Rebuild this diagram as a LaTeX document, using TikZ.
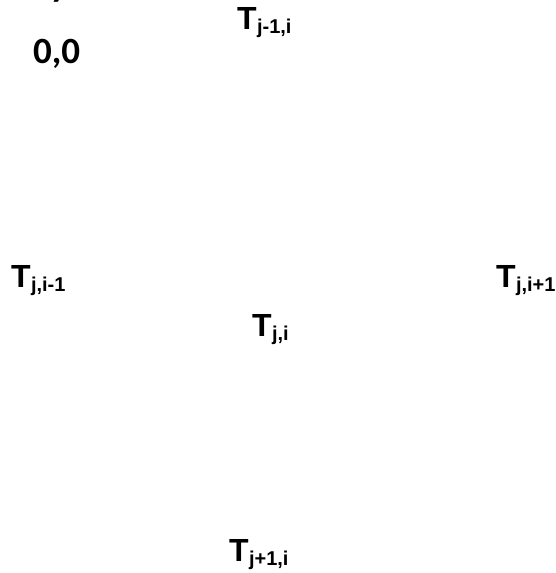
\documentclass[tikz,border=0pt]{standalone}
\usepackage{fontspec}
\setmainfont{Liberation Sans}
\newfontfamily\calib{Carlito}
\newcommand{\Tlab}[1]{\fontsize{32}{32}\selectfont\bfseries T\kern0.5pt\raisebox{-4pt}{\fontsize{20}{20}\selectfont\bfseries #1}}
\tikzset{lab/.style={inner sep=0pt, outer sep=0pt, anchor=base west}}
\begin{document}
\begin{tikzpicture}[x=1pt,y=1pt]
\useasboundingbox (0,0) rectangle (556,573);
\node[lab] (y) at (50,576.5) {\calib\fontsize{37}{37}\selectfont\bfseries y};
\node[lab] (origin) at (33,509) {\calib\fontsize{37}{37}\selectfont\bfseries 0,0};
\node[lab] (top) at (237,543) {\Tlab{j-1,i}};
\node[lab] (left) at (11,285) {\Tlab{j,i-1}};
\node[lab] (right) at (496,285) {\Tlab{j,i+1}};
\node[lab] (center) at (252,236) {\Tlab{j,i}};
\node[lab] (bottom) at (229,11) {\Tlab{j+1,i}};
\end{tikzpicture}
\end{document}
